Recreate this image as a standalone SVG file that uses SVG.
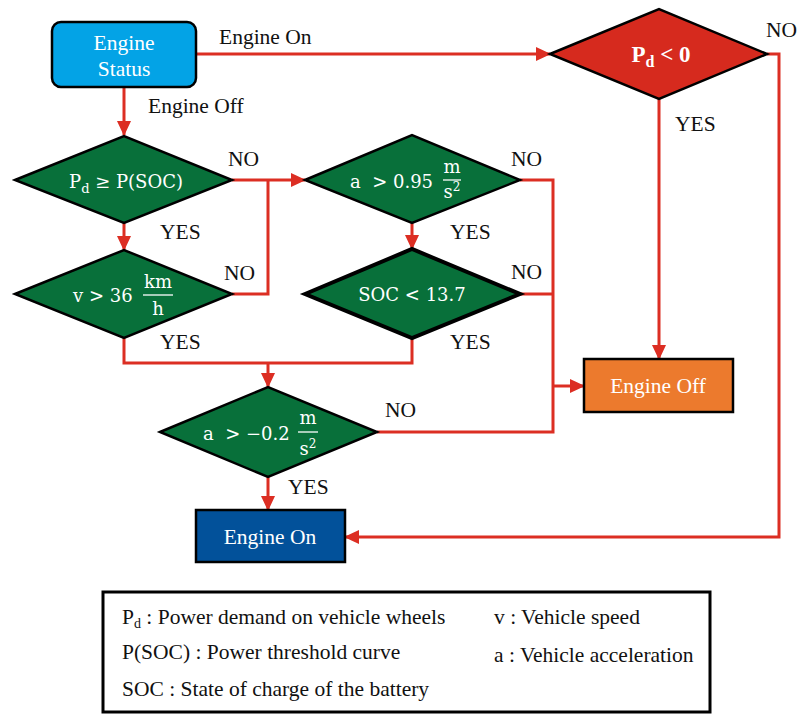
<svg xmlns="http://www.w3.org/2000/svg" width="798" height="716" viewBox="0 0 798 716" font-family="Liberation Serif, serif">
<defs>
<marker id="ah" markerUnits="userSpaceOnUse" markerWidth="16" markerHeight="16" refX="14" refY="8" orient="auto">
<path d="M0,1 L15,8 L0,15 Z" fill="#DC2E23"/>
</marker>
<style>
.ln{fill:none;stroke:#DC2E23;stroke-width:3}
.dm{fill:#08703A;stroke:#000;stroke-width:2.5}
.lb{font-family:"Liberation Serif",serif;font-size:21.5px;fill:#111}
.wt{font-family:"Liberation Serif",serif;font-size:21.5px;fill:#fff;text-anchor:middle}
.mt{font-family:"DejaVu Serif","Liberation Serif",serif;font-size:18px;fill:#fff}
.lg{font-family:"Liberation Serif",serif;font-size:21.5px;fill:#111}
.fr{stroke:#fff;stroke-width:1.3}
</style>
</defs>
<rect width="798" height="716" fill="#fff"/>
<g id="connectors">
<path class="ln" d="M124,87 V135" marker-end="url(#ah)"/>
<path class="ln" d="M197,54 H550" marker-end="url(#ah)"/>
<path class="ln" d="M124,223 V250" marker-end="url(#ah)"/>
<path class="ln" d="M232,180 H305" marker-end="url(#ah)"/>
<path class="ln" d="M232,294 H268 V180"/>
<path class="ln" d="M124,338 V363 H412 V338"/>
<path class="ln" d="M268,363 V387" marker-end="url(#ah)"/>
<path class="ln" d="M412,223 V249" marker-end="url(#ah)"/>
<path class="ln" d="M520,180 H553 V432 H377"/>
<path class="ln" d="M520,294 H553"/>
<path class="ln" d="M553,386 H584" marker-end="url(#ah)"/>
<path class="ln" d="M659,99 V359" marker-end="url(#ah)"/>
<path class="ln" d="M767,54 H779 V537 H345" marker-end="url(#ah)"/>
<path class="ln" d="M268,477 V510" marker-end="url(#ah)"/>
<text class="lb" x="219" y="44">Engine On</text>
<text class="lb" x="148" y="113">Engine Off</text>
<text class="lb" x="766" y="37">NO</text>
<text class="lb" x="675" y="131">YES</text>
<text class="lb" x="228" y="166">NO</text>
<text class="lb" x="160" y="239">YES</text>
<text class="lb" x="224" y="280">NO</text>
<text class="lb" x="160" y="349">YES</text>
<text class="lb" x="511" y="166">NO</text>
<text class="lb" x="450" y="239">YES</text>
<text class="lb" x="511" y="279">NO</text>
<text class="lb" x="450" y="349">YES</text>
<text class="lb" x="385" y="417">NO</text>
<text class="lb" x="288" y="494">YES</text>
</g>
<g id="engine-status">
<rect x="52" y="22" width="144" height="65" rx="9" fill="#03A3E6" stroke="#000" stroke-width="2.5"/>
<text class="wt" x="124" y="50">Engine</text>
<text class="wt" x="124" y="76">Status</text>
</g>
<g id="pd-lt-0">
<polygon points="550,54 659,9 767,54 659,99" fill="#D62A1E" stroke="#000" stroke-width="2.5"/>
<text x="661" y="62" text-anchor="middle" font-family="Liberation Serif, serif" font-size="23" font-weight="bold" fill="#fff">P<tspan font-size="16" dy="5">d</tspan><tspan dy="-5"> &lt; 0</tspan></text>
</g>
<g id="d1">
<polygon class="dm" points="15,180 124,136 232,180 124,223"/>
<text class="mt" x="126" y="188" text-anchor="middle">P<tspan font-size="13" dy="5">d</tspan><tspan dy="-5"> ≥ P(SOC)</tspan></text>
</g>
<g id="d2">
<polygon class="dm" points="15,294 124,250 232,294 124,338"/>
<text class="mt" x="73" y="302">v &gt; 36</text>
<text class="mt" x="158" y="288" text-anchor="middle">km</text>
<line class="fr" x1="143" y1="295" x2="173" y2="295"/>
<text class="mt" x="158" y="315" text-anchor="middle">h</text>
</g>
<g id="d3">
<polygon class="dm" points="305,180 412,135 520,180 412,223"/>
<text class="mt" x="350" y="188" xml:space="preserve">a  &gt; 0.95</text>
<text class="mt" x="452" y="173" text-anchor="middle">m</text>
<line class="fr" x1="443" y1="180" x2="461" y2="180"/>
<text class="mt" x="452" y="198" text-anchor="middle">s<tspan font-size="12" dy="-7">2</tspan></text>
</g>
<g id="d4">
<polygon points="305,294 412,249 520,294 412,338" fill="#08703A" stroke="#000" stroke-width="4"/>
<text class="mt" x="412" y="301" text-anchor="middle">SOC &lt; 13.7</text>
</g>
<g id="d5">
<polygon class="dm" points="160,432 268,387 377,432 268,477"/>
<text class="mt" x="203" y="440" xml:space="preserve">a  &gt; −0.2</text>
<text class="mt" x="308" y="424" text-anchor="middle">m</text>
<line class="fr" x1="298" y1="432" x2="318" y2="432"/>
<text class="mt" x="308" y="455" text-anchor="middle">s<tspan font-size="12" dy="-7">2</tspan></text>
</g>
<g id="engine-off">
<rect x="584" y="359" width="149" height="53" fill="#EC7A2D" stroke="#000" stroke-width="2.5"/>
<text class="wt" x="658" y="393">Engine Off</text>
</g>
<g id="engine-on">
<rect x="196" y="510" width="149" height="52" fill="#02519A" stroke="#000" stroke-width="2.5"/>
<text class="wt" x="270" y="544">Engine On</text>
</g>
<g id="legend">
<rect x="103" y="592" width="607" height="120" fill="#fff" stroke="#000" stroke-width="3"/>
<text class="lg" x="122" y="624">P<tspan font-size="14" dy="4">d</tspan><tspan dy="-4"> : Power demand on vehicle wheels</tspan></text>
<text class="lg" x="494" y="624">v : Vehicle speed</text>
<text class="lg" x="122" y="659">P(SOC) : Power threshold curve</text>
<text class="lg" x="494" y="662">a : Vehicle acceleration</text>
<text class="lg" x="122" y="696">SOC : State of charge of the battery</text>
</g>
</svg>
